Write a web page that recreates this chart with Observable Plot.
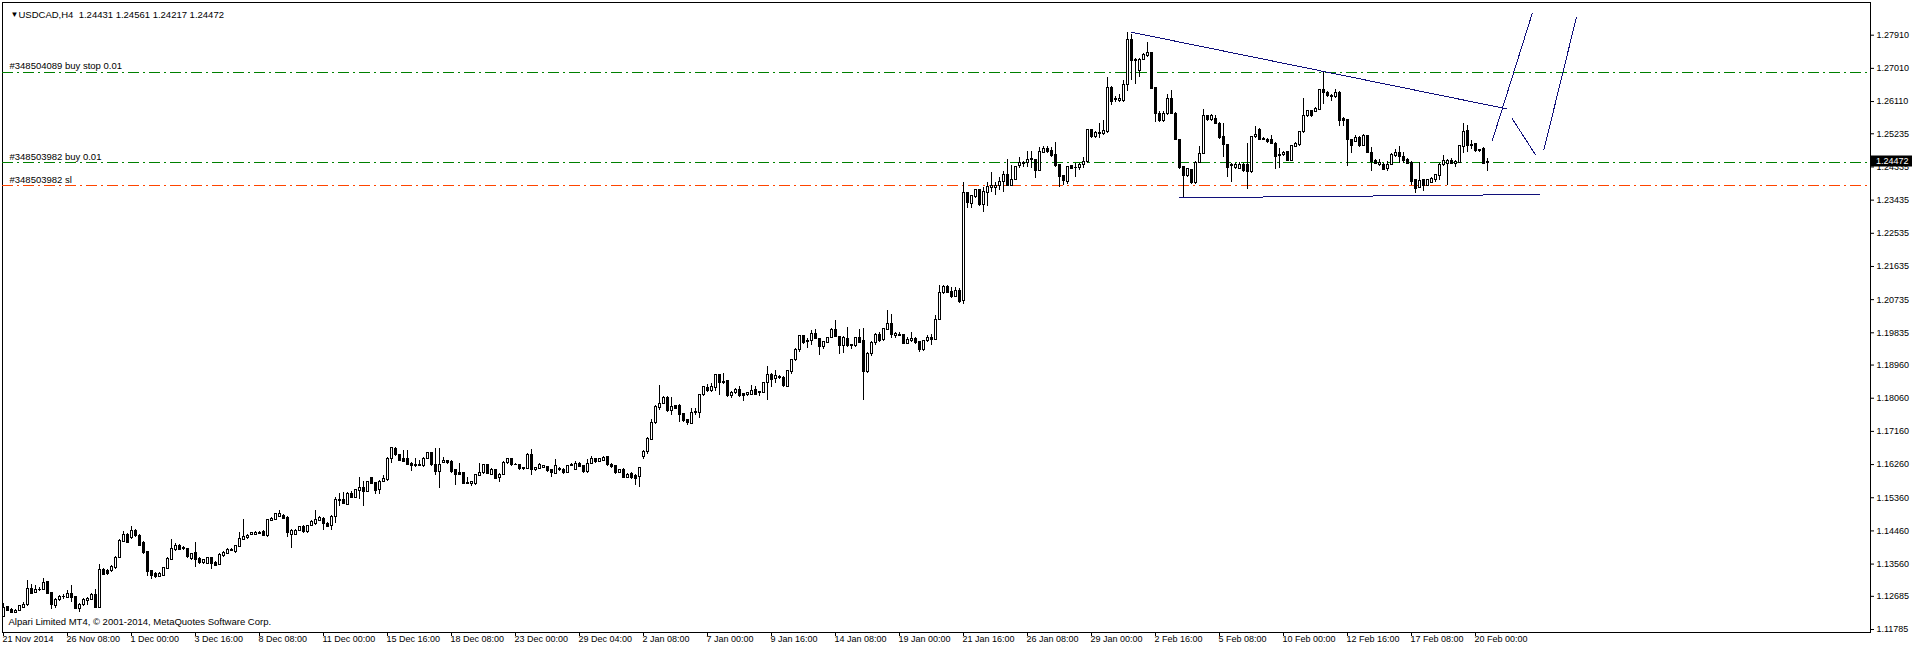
<!DOCTYPE html>
<html><head><meta charset="utf-8">
<script src="https://cdn.jsdelivr.net/npm/d3@7"></script>
<script src="https://cdn.jsdelivr.net/npm/@observablehq/plot@0.6"></script>
<style>html,body{margin:0;padding:0;background:#fff;overflow:hidden}</style>
</head><body><div id="chart"></div>
<script>
// USDCAD H4 candles (index 0 = 21 Nov 2014), prices
const opens = [
1.1212,1.1239,1.1232,1.1224,1.1228,1.1237,1.1244,1.1289,1.1277,1.1286,
1.1286,1.1307,1.1277,1.1242,1.1259,1.1266,1.1264,1.1275,1.1266,1.1235,
1.1244,1.1257,1.1259,1.1273,1.1237,1.1340,1.1338,1.1336,1.1345,1.1373,
1.1417,1.1435,1.1427,1.1445,1.1433,1.1413,1.1388,1.1336,1.1329,1.1322,
1.1325,1.1343,1.1368,1.1393,1.1405,1.1400,1.1396,1.1370,1.1386,1.1370,
1.1360,1.1357,1.1372,1.1359,1.1354,1.1377,1.1384,1.1392,1.1388,1.1402,
1.1422,1.1426,1.1436,1.1436,1.1438,1.1442,1.1432,1.1474,1.1476,1.1485,
1.1486,1.1481,1.1434,1.1436,1.1447,1.1456,1.1442,1.1460,1.1465,1.1474,
1.1479,1.1466,1.1458,1.1484,1.1531,1.1529,1.1517,1.1547,1.1536,1.1554,
1.1563,1.1551,1.1590,1.1576,1.1556,1.1580,1.1583,1.1642,1.1669,1.1651,
1.1642,1.1640,1.1628,1.1622,1.1623,1.1622,1.1642,1.1657,1.1625,1.1606,
1.1631,1.1635,1.1634,1.1610,1.1603,1.1603,1.1574,1.1574,1.1573,1.1596,
1.1603,1.1624,1.1599,1.1610,1.1590,1.1599,1.1630,1.1640,1.1625,1.1625,
1.1614,1.1615,1.1653,1.1610,1.1615,1.1617,1.1619,1.1610,1.1601,1.1615,
1.1612,1.1604,1.1622,1.1612,1.1628,1.1621,1.1606,1.1628,1.1640,1.1633,
1.1637,1.1646,1.1626,1.1621,1.1603,1.1612,1.1590,1.1601,1.1595,1.1592,
1.1646,1.1660,1.1694,1.1739,1.1780,1.1791,1.1806,1.1771,1.1784,1.1784,
1.1762,1.1746,1.1737,1.1767,1.1767,1.1814,1.1834,1.1825,1.1834,1.1868,
1.1850,1.1852,1.1812,1.1819,1.1827,1.1818,1.1816,1.1816,1.1827,1.1819,
1.1820,1.1847,1.1870,1.1859,1.1863,1.1861,1.1836,1.1877,1.1909,1.1936,
1.1974,1.1960,1.1960,1.1979,1.1967,1.1945,1.1957,1.1970,1.1990,1.1972,
1.1948,1.1967,1.1949,1.1948,1.1970,1.1960,1.1877,1.1927,1.1957,1.1977,
1.1963,1.1992,1.2008,1.1976,1.1976,1.1977,1.1954,1.1961,1.1967,1.1958,
1.1936,1.1960,1.1970,1.1965,1.2019,1.2092,1.2109,1.2093,1.2080,1.2096,
1.2070,1.2363,1.2334,1.2352,1.2370,1.2329,1.2364,1.2377,1.2377,1.2381,
1.2392,1.2413,1.2383,1.2399,1.2435,1.2442,1.2444,1.2453,1.2453,1.2422,
1.2472,1.2483,1.2476,1.2465,1.2438,1.2408,1.2392,1.2435,1.2431,1.2430,
1.2440,1.2447,1.2533,1.2515,1.2524,1.2524,1.2528,1.2648,1.2616,1.2612,
1.2612,1.2656,1.2777,1.2721,1.2693,1.2724,1.2734,1.2743,1.2647,1.2578,
1.2558,1.2578,1.2617,1.2578,1.2507,1.2433,1.2410,1.2424,1.2390,1.2445,
1.2469,1.2571,1.2560,1.2564,1.2551,1.2515,1.2492,1.2436,1.2430,1.2429,
1.2438,1.2438,1.2420,1.2514,1.2535,1.2510,1.2507,1.2507,1.2496,1.2463,
1.2465,1.2474,1.2451,1.2487,1.2492,1.2528,1.2572,1.2585,1.2582,1.2589,
1.2641,1.2634,1.2626,1.2623,1.2635,1.2564,1.2560,1.2507,1.2501,1.2513,
1.2490,1.2517,1.2472,1.2451,1.2439,1.2439,1.2429,1.2439,1.2463,1.2472,
1.2460,1.2452,1.2445,1.2397,1.2377,1.2397,1.2383,1.2390,1.2397,1.2408,
1.2438,1.2442,1.2451,1.2442,1.2445,1.2489,1.2530,1.2490,1.2495,1.2479,
1.2481,1.24431];
const highs = [
1.1250,1.1242,1.1235,1.1232,1.1244,1.1253,1.1312,1.1300,1.1297,1.1293,
1.1318,1.1309,1.1280,1.1262,1.1271,1.1273,1.1284,1.1298,1.1268,1.1250,
1.1262,1.1266,1.1277,1.1286,1.1355,1.1345,1.1342,1.1352,1.1377,1.1423,
1.1445,1.1438,1.1458,1.1449,1.1436,1.1416,1.1389,1.1339,1.1332,1.1332,
1.1348,1.1375,1.1424,1.1411,1.1409,1.1404,1.1398,1.1386,1.1415,1.1373,
1.1368,1.1375,1.1375,1.1362,1.1384,1.1389,1.1397,1.1398,1.1406,1.1443,
1.1477,1.1436,1.1442,1.1444,1.1445,1.1446,1.1478,1.1482,1.1493,1.1501,
1.1490,1.1484,1.1450,1.1450,1.1459,1.1460,1.1460,1.1473,1.1501,1.1484,
1.1482,1.1468,1.1488,1.1538,1.1547,1.1549,1.1550,1.1552,1.1558,1.1590,
1.1579,1.1580,1.1592,1.1578,1.1583,1.1597,1.1645,1.1673,1.1671,1.1654,
1.1664,1.1664,1.1631,1.1642,1.1637,1.1645,1.1660,1.1660,1.1669,1.1669,
1.1646,1.1638,1.1637,1.1613,1.1628,1.1605,1.1590,1.1581,1.1600,1.1630,
1.1627,1.1627,1.1614,1.1612,1.1601,1.1633,1.1642,1.1642,1.1628,1.1627,
1.1619,1.1656,1.1667,1.1619,1.1628,1.1624,1.1622,1.1612,1.1639,1.1618,
1.1614,1.1624,1.1628,1.1635,1.1631,1.1623,1.1640,1.1648,1.1642,1.1643,
1.1648,1.1649,1.1628,1.1623,1.1612,1.1615,1.1601,1.1604,1.1598,1.1619,
1.1665,1.1699,1.1748,1.1785,1.1841,1.1811,1.1811,1.1809,1.1787,1.1789,
1.1765,1.1748,1.1777,1.1777,1.1816,1.1839,1.1843,1.1845,1.1870,1.1870,
1.1873,1.1854,1.1823,1.1832,1.1838,1.1820,1.1822,1.1841,1.1838,1.1825,
1.1850,1.1891,1.1873,1.1880,1.1868,1.1864,1.1881,1.1911,1.1940,1.1976,
1.1976,1.1967,1.1990,1.1992,1.1969,1.1960,1.1972,1.1994,1.2017,1.1974,
1.1973,1.1999,1.1953,1.1972,1.1992,1.1994,1.1929,1.1960,1.1981,1.1983,
1.1995,1.2044,1.2032,1.1984,1.1983,1.1980,1.1970,1.1985,1.1970,1.1961,
1.1962,1.1977,1.1979,1.2031,1.2112,1.2112,1.2112,1.2107,1.2106,1.2103,
1.2390,1.2365,1.2357,1.2372,1.2373,1.2379,1.2390,1.2418,1.2390,1.2406,
1.2420,1.2453,1.2437,1.2436,1.2460,1.2448,1.2475,1.2476,1.2455,1.2487,
1.2489,1.2489,1.2487,1.2499,1.2441,1.2410,1.2436,1.2438,1.2444,1.2442,
1.2460,1.2536,1.2535,1.2529,1.2551,1.2560,1.2675,1.2651,1.2625,1.2630,
1.2668,1.2797,1.2793,1.2727,1.2727,1.2740,1.2770,1.2745,1.2650,1.2583,
1.2583,1.2631,1.2641,1.2580,1.2509,1.2435,1.2429,1.2427,1.2447,1.2490,
1.2589,1.2574,1.2576,1.2573,1.2553,1.2551,1.2494,1.2442,1.2442,1.2445,
1.2442,1.2496,1.2517,1.2542,1.2538,1.2513,1.2510,1.2519,1.2499,1.2483,
1.2475,1.2476,1.2491,1.2499,1.2531,1.2620,1.2588,1.2588,1.2594,1.2644,
1.2693,1.2637,1.2629,1.2643,1.2637,1.2567,1.2562,1.2509,1.2519,1.2515,
1.2521,1.2520,1.2487,1.2454,1.2453,1.2442,1.2447,1.2469,1.2481,1.2489,
1.2474,1.2456,1.2447,1.2399,1.2445,1.2399,1.2399,1.2406,1.2414,1.2442,
1.2465,1.2454,1.2456,1.2451,1.2492,1.2551,1.2546,1.2505,1.2497,1.2481,
1.2487,1.24561];
const lows = [
1.1210,1.1228,1.1222,1.1221,1.1226,1.1235,1.1241,1.1273,1.1275,1.1282,
1.1284,1.1273,1.1232,1.1235,1.1255,1.1260,1.1262,1.1251,1.1232,1.1225,
1.1242,1.1244,1.1257,1.1235,1.1235,1.1324,1.1325,1.1333,1.1342,1.1370,
1.1414,1.1411,1.1423,1.1428,1.1403,1.1383,1.1322,1.1313,1.1318,1.1319,
1.1322,1.1340,1.1366,1.1390,1.1392,1.1393,1.1372,1.1367,1.1346,1.1356,
1.1355,1.1354,1.1340,1.1350,1.1351,1.1375,1.1382,1.1390,1.1386,1.1400,
1.1420,1.1424,1.1433,1.1433,1.1435,1.1431,1.1429,1.1472,1.1474,1.1483,
1.1476,1.1429,1.1398,1.1433,1.1444,1.1440,1.1440,1.1457,1.1462,1.1471,
1.1447,1.1454,1.1446,1.1466,1.1511,1.1517,1.1515,1.1533,1.1534,1.1531,
1.1513,1.1549,1.1571,1.1545,1.1545,1.1577,1.1580,1.1630,1.1648,1.1634,
1.1631,1.1624,1.1606,1.1619,1.1620,1.1619,1.1639,1.1621,1.1597,1.1560,
1.1628,1.1627,1.1603,1.1568,1.1596,1.1571,1.1571,1.1567,1.1570,1.1594,
1.1600,1.1598,1.1597,1.1585,1.1577,1.1596,1.1627,1.1622,1.1623,1.1610,
1.1611,1.1612,1.1596,1.1607,1.1612,1.1615,1.1605,1.1590,1.1598,1.1608,
1.1600,1.1601,1.1620,1.1610,1.1617,1.1603,1.1603,1.1626,1.1630,1.1631,
1.1635,1.1621,1.1616,1.1600,1.1601,1.1587,1.1588,1.1586,1.1569,1.1563,
1.1640,1.1654,1.1690,1.1735,1.1773,1.1788,1.1768,1.1759,1.1775,1.1741,
1.1739,1.1731,1.1734,1.1759,1.1750,1.1811,1.1822,1.1822,1.1825,1.1814,
1.1844,1.1809,1.1805,1.1816,1.1809,1.1796,1.1812,1.1813,1.1813,1.1812,
1.1818,1.1800,1.1834,1.1847,1.1857,1.1836,1.1834,1.1871,1.1906,1.1931,
1.1953,1.1940,1.1949,1.1964,1.1922,1.1939,1.1955,1.1968,1.1970,1.1925,
1.1927,1.1945,1.1937,1.1945,1.1954,1.1800,1.1874,1.1920,1.1949,1.1958,
1.1960,1.1990,1.1967,1.1967,1.1974,1.1951,1.1951,1.1958,1.1953,1.1931,
1.1933,1.1958,1.1949,1.1962,1.2017,1.2088,1.2089,1.2077,1.2078,1.2062,
1.2060,1.2322,1.2322,1.2349,1.2326,1.2311,1.2325,1.2363,1.2356,1.2370,
1.2363,1.2380,1.2381,1.2396,1.2430,1.2433,1.2433,1.2429,1.2402,1.2420,
1.2470,1.2471,1.2459,1.2433,1.2377,1.2383,1.2385,1.2427,1.2404,1.2425,
1.2429,1.2444,1.2512,1.2510,1.2510,1.2520,1.2525,1.2600,1.2609,1.2609,
1.2609,1.2639,1.2668,1.2656,1.2677,1.2721,1.2731,1.2643,1.2555,1.2555,
1.2555,1.2573,1.2575,1.2505,1.2427,1.2350,1.2406,1.2387,1.2387,1.2442,
1.2466,1.2557,1.2557,1.2548,1.2507,1.2458,1.2406,1.2390,1.2427,1.2426,
1.2419,1.2372,1.2417,1.2511,1.2504,1.2505,1.2498,1.2494,1.2426,1.2429,
1.2463,1.2449,1.2449,1.2485,1.2489,1.2525,1.2569,1.2568,1.2580,1.2587,
1.2602,1.2623,1.2612,1.2620,1.2544,1.2544,1.2436,1.2470,1.2499,1.2487,
1.2488,1.2469,1.2420,1.2439,1.2436,1.2424,1.2422,1.2437,1.2460,1.2442,
1.2442,1.2440,1.2383,1.2361,1.2374,1.2368,1.2380,1.2388,1.2390,1.2397,
1.2436,1.2383,1.2440,1.2433,1.2442,1.2469,1.2474,1.2480,1.2474,1.2474,
1.2440,1.24217];
const closes = [
1.1237,1.1230,1.1224,1.1228,1.1242,1.1246,1.1289,1.1275,1.1286,1.1287,
1.1305,1.1275,1.1244,1.1259,1.1266,1.1267,1.1275,1.1264,1.1235,1.1246,
1.1259,1.1262,1.1273,1.1237,1.1340,1.1327,1.1328,1.1348,1.1373,1.1418,
1.1435,1.1413,1.1445,1.1431,1.1406,1.1386,1.1334,1.1325,1.1320,1.1329,
1.1345,1.1370,1.1396,1.1406,1.1395,1.1396,1.1375,1.1384,1.1368,1.1359,
1.1366,1.1372,1.1357,1.1352,1.1381,1.1386,1.1395,1.1395,1.1404,1.1423,
1.1429,1.1433,1.1439,1.1440,1.1440,1.1433,1.1476,1.1479,1.1491,1.1493,
1.1479,1.1440,1.1447,1.1447,1.1456,1.1442,1.1458,1.1470,1.1476,1.1481,
1.1466,1.1456,1.1484,1.1531,1.1527,1.1520,1.1547,1.1536,1.1556,1.1563,
1.1551,1.1578,1.1574,1.1554,1.1580,1.1586,1.1642,1.1671,1.1651,1.1637,
1.1634,1.1626,1.1621,1.1625,1.1624,1.1642,1.1657,1.1624,1.1606,1.1625,
1.1635,1.1630,1.1606,1.1597,1.1598,1.1574,1.1577,1.1578,1.1598,1.1604,
1.1624,1.1601,1.1612,1.1588,1.1599,1.1631,1.1640,1.1625,1.1626,1.1613,
1.1617,1.1653,1.1610,1.1616,1.1624,1.1621,1.1608,1.1603,1.1622,1.1610,
1.1603,1.1622,1.1626,1.1628,1.1619,1.1606,1.1628,1.1640,1.1633,1.1640,
1.1644,1.1624,1.1619,1.1603,1.1610,1.1590,1.1598,1.1590,1.1588,1.1616,
1.1660,1.1696,1.1740,1.1782,1.1791,1.1806,1.1771,1.1782,1.1778,1.1761,
1.1744,1.1739,1.1767,1.1769,1.1814,1.1836,1.1825,1.1836,1.1868,1.1848,
1.1847,1.1812,1.1821,1.1827,1.1812,1.1812,1.1819,1.1825,1.1816,1.1822,
1.1848,1.1870,1.1856,1.1865,1.1862,1.1838,1.1879,1.1909,1.1936,1.1974,
1.1956,1.1958,1.1979,1.1967,1.1945,1.1958,1.1970,1.1990,1.1972,1.1949,
1.1970,1.1948,1.1950,1.1970,1.1957,1.1877,1.1927,1.1957,1.1978,1.1961,
1.1993,1.2008,1.1977,1.1981,1.1977,1.1954,1.1963,1.1967,1.1956,1.1936,
1.1960,1.1970,1.1963,1.2019,1.2092,1.2109,1.2092,1.2080,1.2096,1.2067,
1.2363,1.2335,1.2354,1.2370,1.2329,1.2365,1.2379,1.2381,1.2383,1.2394,
1.2413,1.2383,1.2399,1.2433,1.2444,1.2445,1.2453,1.2454,1.2422,1.2473,
1.2483,1.2474,1.2462,1.2436,1.2406,1.2395,1.2433,1.2429,1.2430,1.2440,
1.2448,1.2533,1.2515,1.2526,1.2526,1.2530,1.2648,1.2609,1.2618,1.2618,
1.2656,1.2777,1.2721,1.2724,1.2724,1.2736,1.2743,1.2646,1.2578,1.2558,
1.2578,1.2617,1.2578,1.2507,1.2430,1.2410,1.2427,1.2390,1.2445,1.2469,
1.2571,1.2560,1.2573,1.2551,1.2513,1.2492,1.2431,1.2439,1.2439,1.2438,
1.2422,1.2420,1.2514,1.2521,1.2507,1.2507,1.2501,1.2496,1.2460,1.2467,
1.2472,1.2451,1.2490,1.2496,1.2528,1.2573,1.2585,1.2571,1.2591,1.2641,
1.2634,1.2626,1.2623,1.2635,1.2558,1.2558,1.2506,1.2490,1.2513,1.2490,
1.2517,1.2472,1.2448,1.2442,1.2445,1.2426,1.2440,1.2467,1.2472,1.2460,
1.2451,1.2442,1.2392,1.2374,1.2395,1.2383,1.2397,1.2401,1.2411,1.2438,
1.2451,1.2451,1.2442,1.2448,1.2490,1.2528,1.2490,1.2494,1.2477,1.2477,
1.2442,1.24472];

const xTickIndex = [0,16,32,48,64,80,96,112,128,144,160,176,192,208,224,240,256,272,288,304,320,336,352,368];
const xTickLabels = ["21 Nov 2014","26 Nov 08:00","1 Dec 00:00","3 Dec 16:00","8 Dec 08:00","11 Dec 00:00",
  "15 Dec 16:00","18 Dec 08:00","23 Dec 00:00","29 Dec 04:00","2 Jan 08:00","7 Jan 00:00","9 Jan 16:00",
  "14 Jan 08:00","19 Jan 00:00","21 Jan 16:00","26 Jan 08:00","29 Jan 00:00","2 Feb 16:00","5 Feb 08:00",
  "10 Feb 00:00","12 Feb 16:00","17 Feb 08:00","20 Feb 00:00"];
const yTickValues = [1.27910,1.27010,1.26110,1.25235,1.24335,1.23435,1.22535,1.21635,1.20735,1.19835,
  1.18960,1.18060,1.17160,1.16260,1.15360,1.14460,1.13560,1.12685,1.11785];

const orderNames = ["#348504089 buy stop 0.01", "#348503982 buy 0.01", "#348503982 sl"];
const orderPrices = [1.26900, 1.24450, 1.23830];
const orderTypes = ["entry", "entry", "stop"];

// hand-drawn trend lines: [candle index, price]
const trendUpper = [[282, 1.27991], [375.75, 1.25913]];
const trendLower = [[294.1, 1.23499], [383.9, 1.23588]];
const projUp1 = [[372.2, 1.25053], [382.2, 1.28507]];
const projDown = [[377.2, 1.25642], [383.0, 1.24665]];
const projUp2 = [[385.1, 1.24801], [393.2, 1.28382]];

const symbolTitle = "USDCAD,H4\u00a0 1.24431 1.24561 1.24217 1.24472";
const copyright = "Alpari Limited MT4, \u00a9 2001-2014, MetaQuotes Software Corp.";

const candles = opens.map((o, k) => ({i: k, open: o, high: highs[k], low: lows[k], close: closes[k]}));
const lastClose = closes[closes.length - 1];
const orders = orderNames.map((n, k) => ({name: n, price: orderPrices[k], type: orderTypes[k]}));
const trendLines = [trendUpper, trendLower, projUp1, projDown, projUp2]
  .flatMap((seg, s) => seg.map(([i, p]) => ({seg: s, i, p})));

const FONT = "'Liberation Sans', Arial, sans-serif";
const dash = "11,4,2,4";

function priceBox(index, scales, values, dimensions) {
  const y = scales.y(lastClose);
  const x0 = dimensions.width - dimensions.marginRight + 1;
  const g = d3.create("svg:g").attr("class", "price-box");
  g.append("rect").attr("x", x0).attr("y", Math.round(y) - 5.5)
    .attr("width", dimensions.width - x0).attr("height", 11).attr("fill", "black");
  g.append("text").attr("x", x0 + 5).attr("y", y).attr("dy", "0.34em")
    .attr("text-anchor", "start")
    .attr("fill", "white").attr("font-size", 9).attr("font-family", FONT)
    .text(lastClose.toFixed(5));
  return g.node();
}

const chart = Plot.plot({
  width: 1912,
  height: 650,
  marginTop: 2,
  marginRight: 42,
  marginBottom: 18,
  marginLeft: 2,
  style: {background: "white", color: "black", fontFamily: FONT, fontSize: "9px"},
  x: {type: "linear", domain: [0, 371], range: [3, 1487], ticks: xTickIndex, tickFormat: () => "", tickSize: 4, label: null},
  y: {type: "linear", domain: [1.11785, 1.27910], range: [629, 34.7], axis: "right", ticks: yTickValues,
      tickFormat: d => d.toFixed(5), tickSize: 3, tickPadding: 3, label: null},
  color: {type: "identity"},
  marks: [
    Plot.frame({stroke: "black"}),
    Plot.ruleY(orders, {y: "price", stroke: d => d.type === "stop" ? "#ff4500" : "#008000", strokeDasharray: dash, shapeRendering: "crispEdges"}),
    Plot.text(orders, {y: "price", text: "name", frameAnchor: "left", dx: 7, dy: -6, textAnchor: "start", fill: "black", fontSize: 9.5}),
    Plot.ruleX(candles, {x: "i", y1: "low", y2: "high", stroke: "black", shapeRendering: "crispEdges"}),
    Plot.rect(candles, {x1: d => d.i - 0.25, x2: d => d.i + 0.25, y1: "open", y2: "close",
      fill: d => d.close >= d.open ? "white" : "black", stroke: "black", shapeRendering: "crispEdges"}),
    Plot.line(trendLines, {x: "i", y: "p", z: "seg", stroke: "#10107a", strokeWidth: 1, shapeRendering: "crispEdges"}),
    Plot.text(xTickLabels, {x: (d, k) => xTickIndex[k], text: d => d, frameAnchor: "bottom", textAnchor: "start", dx: -1, dy: 9, fill: "black"}),
    Plot.text(["\u25BC"], {frameAnchor: "top-left", dx: 8, dy: 9, fontSize: 8, fill: "black"}),
    Plot.text([symbolTitle], {frameAnchor: "top-left", dx: 16, dy: 9, textAnchor: "start", fontSize: 9.5, fill: "black"}),
    Plot.text([copyright], {frameAnchor: "bottom-left", dx: 6, dy: -8, textAnchor: "start", fontSize: 9.5, fill: "black"}),
    priceBox
  ]
});
// the current-price box sits on top of the price axis, as in the terminal
const box = chart.querySelector("g.price-box");
if (box) chart.appendChild(box);
document.getElementById("chart").appendChild(chart);
</script>
</body></html>
